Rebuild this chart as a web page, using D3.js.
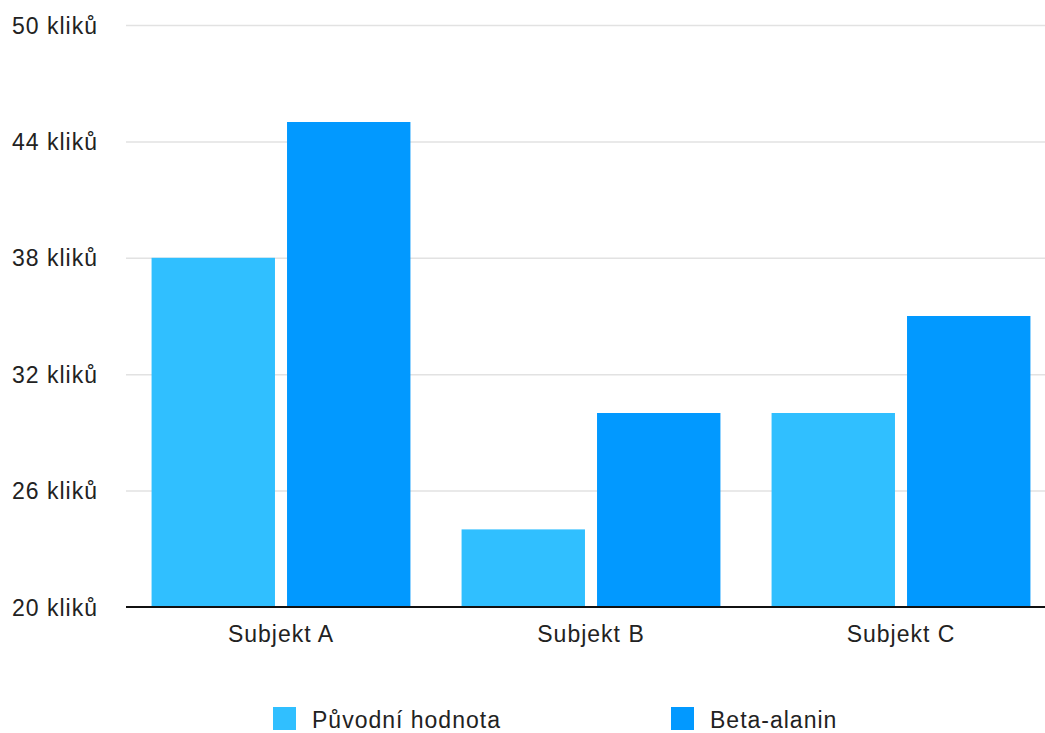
<!DOCTYPE html>
<html><head><meta charset="utf-8">
<script src="https://cdn.jsdelivr.net/npm/d3@7"></script>
<style>
html,body{margin:0;padding:0;background:#fff;}
svg{display:block;font-family:"Liberation Sans",Arial,sans-serif;}
</style></head>
<body>
<svg id="c" width="1045" height="733"></svg>
<script>
const categories = ["Subjekt A", "Subjekt B", "Subjekt C"];
const seriesNames = ["Původní hodnota", "Beta-alanin"];
const puvodni = [38, 24, 30];
const betaAlanin = [45, 30, 35];
const yTicks = [20, 26, 32, 38, 44, 50];
const colors = ["#30bfff", "#0299ff"];

const svg = d3.select("#c");
const y = d3.scaleLinear().domain([20, 50]).range([607, 25]);
const x0 = d3.scaleBand().domain(categories).range([126, 1056]).paddingInner(0.165).paddingOuter(0.0825);
const x1 = d3.scaleBand().domain(seriesNames).range([0, x0.bandwidth()]).paddingInner(0.089).paddingOuter(0);

// gridlines
const yAxis = d3.axisLeft(y).tickValues(yTicks).tickSize(-(1045 - 126)).tickFormat(d => d + " kliků");
const gy = svg.append("g").attr("transform", "translate(126,0)").call(yAxis);
gy.select(".domain").remove();
gy.selectAll(".tick line").attr("stroke", "#e2e2e2").attr("stroke-width", 1.5)
  .filter(d => d === 20).attr("stroke", "none");
gy.selectAll(".tick text").attr("x", -28).attr("dy", "0.35em")
  .attr("fill", "#222").style("font-size", "23px").style("letter-spacing", "1px")
  .attr("text-anchor", "end");

// bars
const data = categories.map((c, i) => ({c, vals: [puvodni[i], betaAlanin[i]]}));
const groups = svg.append("g").selectAll("g").data(data).join("g")
  .attr("transform", d => `translate(${x0(d.c)},0)`);
groups.selectAll("rect").data(d => d.vals.map((v, j) => ({k: seriesNames[j], v, j})))
  .join("rect")
  .attr("x", d => x1(d.k)).attr("width", x1.bandwidth())
  .attr("y", d => y(d.v)).attr("height", d => y(20) - y(d.v))
  .attr("fill", d => colors[d.j]);

// x axis
const xAxis = d3.axisBottom(x0).tickSize(0).tickSizeOuter(0);
const gx = svg.append("g").attr("transform", `translate(0,${y(20)})`).call(xAxis);
gx.select(".domain").attr("stroke", "#111").attr("stroke-width", 2).attr("d", "M126,0H1045");
gx.selectAll(".tick text").attr("y", 35).attr("dy", 0)
  .attr("fill", "#222").style("font-size", "23px").style("letter-spacing", "1px");

// legend
const legX = [273, 671];
const leg = svg.append("g").selectAll("g").data(seriesNames).join("g")
  .attr("transform", (d, i) => `translate(${legX[i]},707)`);
leg.append("rect").attr("width", 23).attr("height", 23).attr("fill", (d, i) => colors[i]);
leg.append("text").attr("x", 39).attr("y", 21).text(d => d)
  .attr("fill", "#222").style("font-size", "23px").style("letter-spacing", "1px");
</script>
</body></html>
